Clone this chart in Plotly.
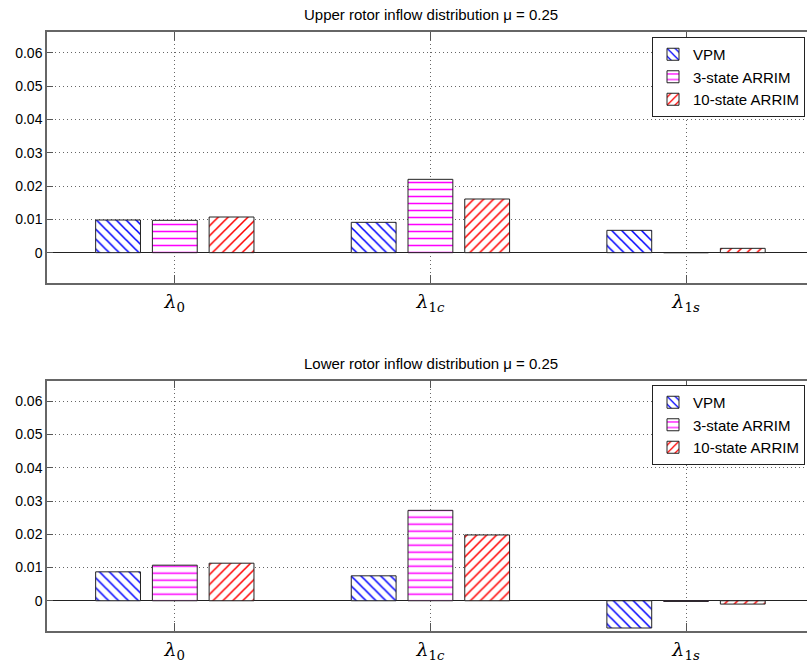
import plotly.graph_objects as go

# ---- data ----
categories = [1, 2, 3]
tick_labels = ["<i>λ</i><sub>0</sub>", "<i>λ</i><sub>1<i>c</i></sub>", "<i>λ</i><sub>1<i>s</i></sub>"]
series_names = ["VPM", "3-state ARRIM", "10-state ARRIM"]

upper_vpm = [0.0098, 0.0091, 0.0067]
upper_arrim3 = [0.0097, 0.0220, 0.0]
upper_arrim10 = [0.0107, 0.0161, 0.0013]

lower_vpm = [0.0087, 0.0075, -0.0082]
lower_arrim3 = [0.0107, 0.0272, -0.0002]
lower_arrim10 = [0.0113, 0.0198, -0.0010]

titles = ["Upper rotor inflow distribution μ = 0.25",
          "Lower rotor inflow distribution μ = 0.25"]
y_ticks = [0, 0.01, 0.02, 0.03, 0.04, 0.05, 0.06]
y_tick_text = ["0", "0.01", "0.02", "0.03", "0.04", "0.05", "0.06"]

# ---- styles ----
W, H = 807, 667
styles = [
    dict(shape="\\", fg="#0000ff"),
    dict(shape="-", fg="#ff00ff"),
    dict(shape="/", fg="#ff0000"),
]

fig = go.Figure()

panels = [
    ([upper_vpm, upper_arrim3, upper_arrim10], "x", "y", "legend"),
    ([lower_vpm, lower_arrim3, lower_arrim10], "x2", "y2", "legend2"),
]

for vals, xa, ya, lg in panels:
    for name, v, st in zip(series_names, vals, styles):
        fig.add_trace(go.Bar(
            x=categories, y=v, name=name, xaxis=xa, yaxis=ya, legend=lg,
            marker=dict(color="white",
                        line=dict(color="#222222", width=1),
                        pattern=dict(shape=st["shape"], fgcolor=st["fg"],
                                     bgcolor="white", size=7, solidity=0.22,
                                     fgopacity=1, fillmode="overlay")),
        ))

left = 47 / W
xmax = 3 + (W - 686) / 255.7
top_dom = [1 - 283 / H, 1 - 32 / H]
bot_dom = [1 - 631 / H, 1 - 380.7 / H]

axis_common_x = dict(
    range=[0.5, xmax], tickvals=categories, ticktext=tick_labels,
    showline=True, linecolor="#666666", linewidth=1.5, mirror="ticks",
    ticks="inside", ticklen=8, tickcolor="#555555",
    showgrid=True, gridcolor="#666666", griddash="1px,3px", gridwidth=1,
    zeroline=False,
    tickfont=dict(family="DejaVu Serif", size=19, color="black"),
    fixedrange=True,
)
axis_common_y = dict(
    range=[-0.0091, 0.0662], tickvals=y_ticks, ticktext=y_tick_text,
    showline=True, linecolor="#666666", linewidth=1.5, mirror=False,
    ticks="inside", ticklen=6, tickcolor="#555555",
    showgrid=True, gridcolor="#666666", griddash="1px,3px", gridwidth=1,
    zeroline=True, zerolinecolor="#222222", zerolinewidth=1,
    tickfont=dict(family="Liberation Sans", size=14, color="black"),
    fixedrange=True,
)

legend_common = dict(
    xanchor="left", yanchor="top", bgcolor="white",
    bordercolor="#222222", borderwidth=1,
    font=dict(family="Liberation Sans", size=15, color="black"),
    tracegroupgap=0, itemwidth=30,
)

fig.update_layout(
    width=W, height=H,
    margin=dict(l=0, r=0, t=0, b=0),
    paper_bgcolor="white", plot_bgcolor="white",
    barmode="group", bargap=0.334, bargroupgap=0.21,
    xaxis=dict(domain=[left, 1], anchor="y", **axis_common_x),
    yaxis=dict(domain=top_dom, anchor="x", **axis_common_y),
    xaxis2=dict(domain=[left, 1], anchor="y2", **axis_common_x),
    yaxis2=dict(domain=bot_dom, anchor="x2", **axis_common_y),
    legend=dict(x=652 / W, y=1 - 37 / H, **legend_common),
    legend2=dict(x=652 / W, y=1 - 385 / H, **legend_common),
    annotations=[
        dict(text=titles[0], x=(47 + 814) / 2 / W, y=1 - 15 / H,
             xref="paper", yref="paper", showarrow=False,
             xanchor="center", yanchor="middle",
             font=dict(family="Liberation Sans", size=15, color="black")),
        dict(text=titles[1], x=(47 + 814) / 2 / W, y=1 - 364 / H,
             xref="paper", yref="paper", showarrow=False,
             xanchor="center", yanchor="middle",
             font=dict(family="Liberation Sans", size=15, color="black")),
    ],
)

fig.write_html("out.html")
